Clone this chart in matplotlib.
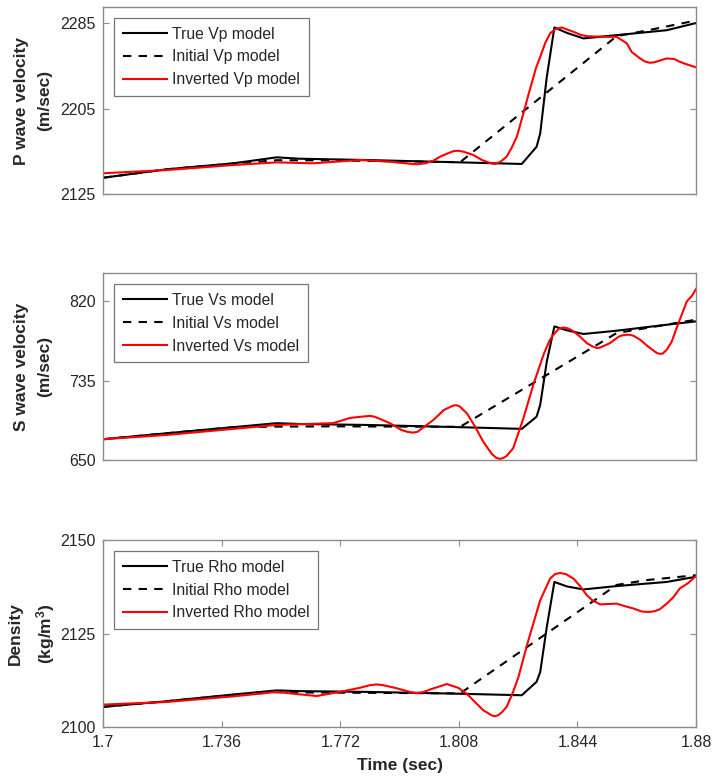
import numpy as np
import matplotlib.pyplot as plt

# --- picked log values (time in sec) ---
t_true = [1.700, 1.7193, 1.7395, 1.7527, 1.7598, 1.7800, 1.8084, 1.8271,
          1.8316, 1.8327, 1.8347, 1.8370, 1.8408, 1.8458, 1.8559, 1.8711, 1.880]
vp_true = [2140.2, 2148.1, 2153.7, 2159.3, 2158.0, 2156.8, 2154.6, 2153.1,
           2169.2, 2181.8, 2234.7, 2280.9, 2275.8, 2270.6, 2273.7, 2278.3, 2285.0]
vs_true = [672.5, 678.9, 685.4, 689.7, 688.8, 687.8, 685.4, 683.6,
           696.7, 709.3, 755.7, 793.2, 789.0, 785.1, 788.6, 795.0, 798.6]
rho_true = [2105.4, 2106.9, 2108.7, 2109.8, 2109.6, 2109.4, 2108.9, 2108.5,
            2112.1, 2114.7, 2126.8, 2138.8, 2137.6, 2136.8, 2137.7, 2138.8, 2140.2]

t_init = [1.700, 1.7193, 1.7395, 1.7527, 1.7698, 1.8084, 1.8559, 1.8650, 1.880]
vp_init = [2140.2, 2148.1, 2153.5, 2156.6, 2156.4, 2154.8, 2272.7, 2278.0, 2287.4]
vs_init = [672.5, 678.9, 685.4, 686.0, 686.3, 685.8, 786.1, 791.5, 800.4]
rho_init = [2105.4, 2106.9, 2108.6, 2109.3, 2109.2, 2109.0, 2138.0, 2139.3, 2140.6]

t_vp_inv = [1.700, 1.7193, 1.7395, 1.7527, 1.7637, 1.7780, 1.7871, 1.7925,
            1.7952, 1.7980, 1.8002, 1.8023, 1.8050, 1.8065, 1.8079, 1.8095,
            1.8124, 1.8150, 1.8175, 1.8190, 1.8205, 1.8225, 1.8240, 1.8256,
            1.8276, 1.8290, 1.8301, 1.8314, 1.8327, 1.8342, 1.8357, 1.8373,
            1.8392, 1.8410, 1.8428, 1.8448, 1.8468, 1.8519, 1.8559, 1.8590,
            1.8605, 1.8630, 1.8645, 1.8660, 1.8672, 1.8685, 1.8711, 1.8735,
            1.8751, 1.8775, 1.880]
vp_inv = [2144.4, 2147.4, 2152.1, 2154.6, 2153.7, 2156.8, 2155.2, 2153.5,
          2152.8, 2153.8, 2156.1, 2159.9, 2163.5, 2165.2, 2165.5, 2164.5,
          2161.5, 2156.8, 2154.0, 2153.1, 2154.9, 2159.9, 2168.0, 2178.6,
          2200.5, 2216.6, 2228.5, 2242.8, 2253.4, 2266.2, 2275.3, 2279.3,
          2280.9, 2278.8, 2276.8, 2274.1, 2272.7, 2272.1, 2272.1, 2265.9,
          2257.8, 2251.9, 2249.0, 2247.8, 2248.2, 2249.4, 2251.9, 2251.2,
          2248.7, 2246.0, 2243.5]

t_vs_inv = [1.700, 1.7193, 1.7527, 1.7698, 1.7750, 1.7795, 1.7811, 1.7825,
            1.7840, 1.7871, 1.7905, 1.7925, 1.7942, 1.7955, 1.7970, 1.8003,
            1.8035, 1.8063, 1.8072, 1.8082, 1.8104, 1.8128, 1.8154, 1.8180,
            1.8193, 1.8205, 1.8215, 1.8225, 1.8245, 1.8276, 1.8306, 1.8337,
            1.8355, 1.8367, 1.8383, 1.8397, 1.8412, 1.8428, 1.8450, 1.8468,
            1.8485, 1.8499, 1.8507, 1.8515, 1.8539, 1.8565, 1.8578, 1.8590,
            1.8600, 1.8610, 1.8630, 1.8655, 1.8681, 1.8690, 1.8698, 1.8711,
            1.8726, 1.8741, 1.8772, 1.8788, 1.880]
vs_inv = [672.5, 677.1, 687.8, 689.7, 695.3, 697.0, 697.5, 696.5,
          694.3, 689.7, 682.5, 680.3, 679.6, 680.5, 684.6, 693.2,
          703.9, 708.5, 708.9, 707.7, 700.4, 686.8, 669.9, 656.8,
          652.8, 651.4, 652.5, 654.6, 662.9, 695.0, 730.7, 762.9,
          777.9, 784.3, 790.6, 792.1, 791.0, 787.9, 781.6, 775.4,
          771.9, 770.1, 770.4, 771.5, 775.4, 782.2, 783.8, 784.3,
          784.2, 783.2, 779.0, 771.5, 764.7, 763.9, 764.0, 768.2,
          776.8, 791.5, 820.0, 826.1, 833.3]

t_rho_inv = [1.700, 1.7193, 1.7395, 1.7527, 1.7590, 1.7649, 1.7719, 1.7780,
             1.7810, 1.7831, 1.7850, 1.7890, 1.7935, 1.7952, 1.7970, 1.7995,
             1.8043, 1.8078, 1.8104, 1.8130, 1.8154, 1.8180, 1.8190, 1.8200,
             1.8210, 1.8225, 1.8243, 1.8261, 1.8291, 1.8327, 1.8357, 1.8372,
             1.8387, 1.8405, 1.8428, 1.8448, 1.8468, 1.8485, 1.8509, 1.8559,
             1.8585, 1.8610, 1.8635, 1.8648, 1.8660, 1.8675, 1.8690, 1.8711,
             1.8731, 1.8751, 1.8776, 1.880]
rho_inv = [2106.0, 2106.7, 2108.2, 2109.4, 2108.8, 2108.3, 2109.4, 2110.5,
           2111.2, 2111.4, 2111.2, 2110.4, 2109.3, 2109.1, 2109.3, 2110.1,
           2111.5, 2110.5, 2108.9, 2106.6, 2104.5, 2103.1, 2102.9, 2103.2,
           2103.9, 2105.4, 2109.0, 2113.4, 2123.2, 2133.9, 2139.7, 2140.9,
           2141.2, 2140.9, 2139.7, 2137.7, 2135.3, 2133.9, 2132.8, 2133.0,
           2132.3, 2131.7, 2130.9, 2130.8, 2130.8, 2131.0, 2131.5, 2133.0,
           2134.7, 2137.1, 2138.5, 2140.4]

panels = [
    ("Vp", vp_true, vp_init, t_vp_inv, vp_inv, (2125, 2300), [2125, 2205, 2285],
     "P wave velocity\n(m/sec)", -0.086),
    ("Vs", vs_true, vs_init, t_vs_inv, vs_inv, (650, 850), [650, 735, 820],
     "S wave velocity\n(m/sec)", -0.086),
    ("Rho", rho_true, rho_init, t_rho_inv, rho_inv, (2100, 2150), [2100, 2125, 2150],
     "Density\n(kg/m$\\mathbf{^3}$)", -0.077),
]
xticks = [1.7, 1.736, 1.772, 1.808, 1.844, 1.88]
xticklabels = ["1.7", "1.736", "1.772", "1.808", "1.844", "1.88"]

plt.rcParams['font.family'] = ['Liberation Sans', 'DejaVu Sans']
plt.rcParams['mathtext.fontset'] = 'custom'
plt.rcParams['mathtext.rm'] = 'Liberation Sans'
plt.rcParams['mathtext.bf'] = 'Liberation Sans:bold'

fig = plt.figure(figsize=(7.15, 7.8), dpi=100)
bottoms = [0.7513, 0.4099, 0.0679]
spine_col = '#8c8c8c'
text_col = '#262626'

for (name, y_true, y_init, t_inv, y_inv, ylim, yticks, ylabel, lab_x), b in zip(panels, bottoms):
    ax = fig.add_axes([0.1441, b, 0.8294, 0.2397])
    ax.plot(t_true, y_true, color='black', lw=1.5, label=f"True {name} model")
    ax.plot(t_init, y_init, color='black', lw=1.5, dashes=(4, 3.5),
            label=f"Initial {name} model")
    ax.plot(t_inv, y_inv, color='red', lw=1.5, solid_joinstyle='round',
            label=f"Inverted {name} model")

    ax.set_xlim(1.7, 1.88)
    ax.set_ylim(*ylim)
    ax.set_yticks(yticks)
    for s in ax.spines.values():
        s.set_color(spine_col)
        s.set_linewidth(1.0)
    ax.tick_params(direction='in', length=4.3, width=0.8, color=spine_col,
                   labelcolor=text_col, labelsize=11.5, pad=5.5,
                   right=True, top=True)
    if name == "Rho":
        ax.set_xticks(xticks)
        ax.set_xticklabels(xticklabels)
        ax.set_xlabel("Time (sec)", fontsize=12.5, fontweight='bold',
                      color=text_col, labelpad=6)
    else:
        ax.set_xticks([])

    ax.set_ylabel(ylabel, fontsize=12.5, fontweight='bold', color=text_col,
                  linespacing=1.65)
    ax.yaxis.set_label_coords(lab_x, 0.5)

    leg = ax.legend(loc='upper left', fontsize=11.3, frameon=True, fancybox=False,
                    handlelength=2.8, handletextpad=0.35, labelspacing=0.5,
                    borderpad=0.55, borderaxespad=0.7)
    leg.get_frame().set_edgecolor('#555555')
    leg.get_frame().set_linewidth(0.9)
    for txt in leg.get_texts():
        txt.set_color(text_col)

fig.savefig("out.png", dpi=100)
